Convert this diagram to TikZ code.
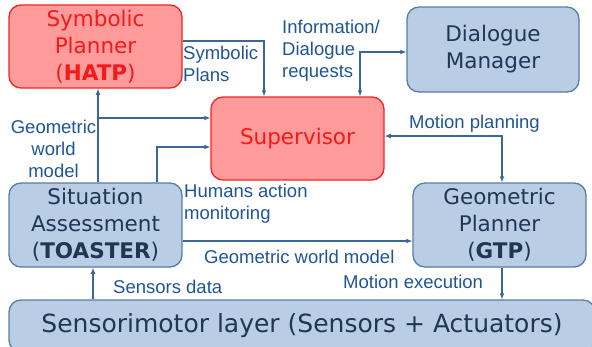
\documentclass[tikz,border=0pt]{standalone}
\usepackage{fontspec}
\newfontfamily\boxfont{DejaVu Sans}
\newfontfamily\lblfont{Liberation Sans}
\definecolor{redfill}{HTML}{FF9B9B}
\definecolor{redline}{HTML}{F22424}
\definecolor{redtext}{HTML}{F21A1A}
\definecolor{bluefill}{HTML}{B9CDE5}
\definecolor{blueline}{HTML}{5A7BA3}
\definecolor{bluetext}{HTML}{1F3655}
\definecolor{arrowc}{HTML}{3A679A}
\definecolor{lbl}{HTML}{1F5596}
\usetikzlibrary{positioning}
\begin{document}
\begin{tikzpicture}[x=1pt, y=-1pt, >=latex,
	box/.style={draw, rounded corners=12pt, line width=1.3pt, align=center, inner sep=0,
		font=\boxfont\fontsize{21.5}{27}\selectfont},
	red box/.style={box, fill=redfill, draw=redline, text=redtext},
	blue box/.style={box, fill=bluefill, draw=blueline, text=bluetext},
	l/.style={font=\lblfont\fontsize{18.5}{22}\selectfont, text=lbl, inner sep=0, align=left},
	link/.style={draw=arrowc, line width=1.1pt}]
	\useasboundingbox (0,0) rectangle (592,346);
	\clip (0,0) rectangle (592,346);

	% boxes
	\node[red box, minimum width=173pt, minimum height=83pt] (plan) at (95.5,46.5) {Symbolic\\Planner\\(\textbf{HATP})};
	\node[blue box, minimum width=172pt, minimum height=85pt] (dial) at (493,49.5) {Dialogue\\Manager};
	\node[red box, minimum width=173pt, minimum height=83pt] (sup) at (297.5,138.5) {Supervisor};
	\node[blue box, minimum width=173pt, minimum height=84pt] (sit) at (95.5,225) {Situation\\Assessment\\(\textbf{TOASTER})};
	\node[blue box, minimum width=173pt, minimum height=84pt] (geo) at (499.5,225) {Geometric\\Planner\\(\textbf{GTP})};
	\node[blue box, minimum width=586pt, minimum height=52pt, font=\boxfont\fontsize{25}{30}\selectfont] (sens) at (302,326) {Sensorimotor layer (Sensors + Actuators)};

	% bends
	\coordinate (gwm) at (98,118);
	\coordinate (ham) at (157,147);
	\coordinate (sp) at (264,41);
	\coordinate (dr) at (360,52);
	\coordinate (mp) at (502,136);
	\coordinate (gw) at (300,241);
	\coordinate (sd) at (93,283);

	\draw[link, ->] (gwm |- sit.north) -- (gwm |- plan.south);
	\draw[link, ->] (gwm) -- (gwm -| sup.west);
	\draw[link, ->] (ham |- sit.north) -- (ham) -- (ham -| sup.west);
	\draw[link, ->] (sp -| plan.east) -- (sp) -- (sp |- sup.north);
	\draw[link, <->] (dr |- sup.north) -- (dr) -- (dr -| dial.west);
	\draw[link, <->] (mp -| sup.east) -- (mp) -- (mp |- geo.north);
	\draw[link, ->] (gw -| sit.east) -- (gw -| geo.west);
	\draw[link, ->] (mp |- geo.south) -- (mp |- sens.north);
	\draw[link, ->] (sd |- sens.north) -- (sd |- sit.south);

	% labels
	\node[l, anchor=north west] (lsp) at (183,46) {Symbolic\\Plans};
	\node[l, anchor=north west] (ldr) at (282,20) {Information/\\Dialogue\\requests};
	\node[l, anchor=base west] (lmp) at (409,128) {Motion planning};
	\node[l, anchor=north, align=center] (lgwm) at (53.5,119.5) {Geometric\\world\\model};
	\node[l, anchor=north west] (lham) at (184,183.5) {Humans action\\monitoring};
	\node[l, anchor=base west] (lgw) at (204,263) {Geometric world model};
	\node[l, anchor=base west] (lme) at (343,288) {Motion execution};
	\node[l, anchor=base west] (lsd) at (113,293) {Sensors data};
\end{tikzpicture}
\end{document}
